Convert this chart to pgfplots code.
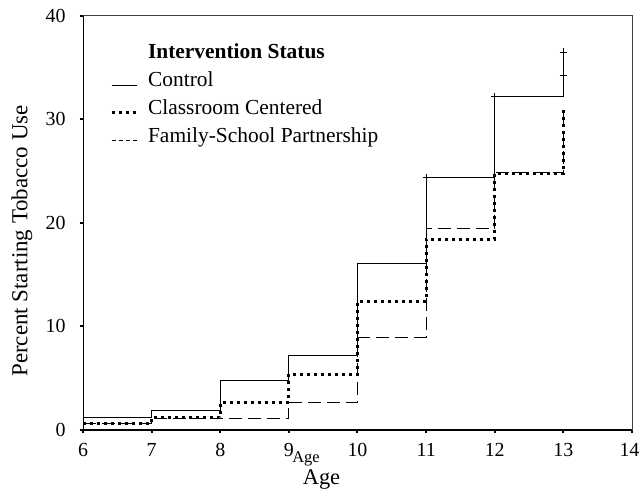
\documentclass[border=0pt]{standalone}
\usepackage{fontspec}
\setmainfont{Liberation Serif}
\usepackage{pgfplots}
\pgfplotsset{compat=1.18}
\begin{document}
\begin{tikzpicture}
\begin{axis}[
  name=ax,
  scale only axis,
  width=549bp, height=414.3bp,
  xmin=6, xmax=14, ymin=0, ymax=40,
  xtick={6,...,14}, ytick={0,10,20,30,40},
  xticklabels={6,7,8,9,10,11,12,13,\hspace*{-5bp}14},
  tick align=outside,
  xtick pos=bottom, ytick pos=left,
  major tick length=3bp,
  tick style={line width=2bp, black},
  axis line style={line width=0.6bp, black!75},
  /pgf/number format/assume math mode=true,
  ticklabel style={font=\fontsize{20}{20}\selectfont},
  xticklabel style={yshift=-7bp},
  yticklabel style={xshift=-11bp},
  legend style={draw=none, fill=none, at={(rel axis cs:0.049,0.937)}, anchor=north west,
    font=\fontsize{21.5}{21.5}\selectfont, row sep=7.5bp, inner sep=0pt,
    /tikz/every odd column/.append style={column sep=8bp}},
  legend cell align=left,
  legend image code/.code={\draw[#1] (0bp,-5bp) -- (25bp,-5bp);},
]
\addlegendimage{empty legend}
\addlegendentry{\textbf{Intervention Status}}
\addlegendimage{black, line width=0.8bp}
\addlegendentry{Control}
\addlegendimage{black, line width=3bp, dash pattern=on 3bp off 4bp}
\addlegendentry{Classroom Centered}
\addlegendimage{black, line width=0.8bp, dash pattern=on 4.5bp off 2.5bp}
\addlegendentry{Family-School Partnership}
\addplot[forget plot, const plot, black, line width=0.8bp] coordinates {
  (6,1.19) (7,1.86) (8,4.75) (9,7.24) (10,16.1) (11,24.35) (12,32.2) (13,36.5)};
\addplot[forget plot, const plot, black, line width=3bp, dash pattern=on 3bp off 4bp] coordinates {
  (6,0.65) (7,1.2) (8,2.7) (9,5.4) (10,12.45) (11,18.4) (12,24.8) (13,31.3)};
\addplot[forget plot, const plot, black, line width=0.8bp, dash pattern=on 13bp off 6bp] coordinates {
  (6,0.65) (7,1.15) (8,1.1) (9,2.65) (10,8.95) (11,19.5) (12,24.85) (13,31.0)};
\addplot[forget plot, only marks, mark=+, mark size=3.5bp, black, line width=0.7bp] coordinates {
  (13,36.5) (13,34.2) (12,32.2) (11,24.35)};
\draw[line width=1.3bp, black] (rel axis cs:0,1) -- (rel axis cs:0,0) -- (rel axis cs:1,0);
\end{axis}
\node[anchor=base, font=\fontsize{22.5}{22.5}\selectfont] at (238.5bp,-54bp) {Age};
\node[anchor=base, font=\fontsize{16.5}{16.5}\selectfont] at (223bp,-32bp) {Age};
\node[rotate=90, font=\fontsize{23}{23}\selectfont] at (-61bp,189bp) {Percent Starting Tobacco Use};
\pgfresetboundingbox
\path (-83bp,-59bp) rectangle (557bp,430bp);
\end{tikzpicture}
\end{document}
